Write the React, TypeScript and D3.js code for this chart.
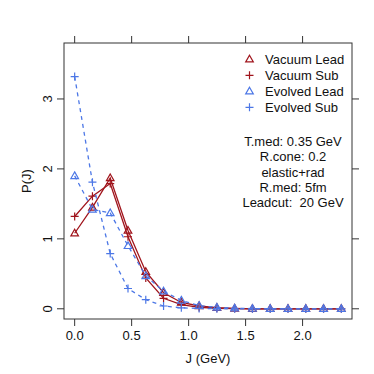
import React from "react";
import * as d3 from "d3";

const jValues = [0, 0.156, 0.312, 0.468, 0.624, 0.78, 0.936, 1.092, 1.248, 1.404, 1.56, 1.716, 1.872, 2.028, 2.184, 2.34];
const vacuumLead = [1.08, 1.45, 1.87, 1.12, 0.53, 0.23, 0.09, 0.04, 0.015, 0.005, 0, 0, 0, 0, 0, 0];
const vacuumSub = [1.32, 1.61, 1.79, 1.03, 0.44, 0.15, 0.06, 0.02, 0.008, 0.003, 0, 0, 0, 0, 0, 0];
const evolvedLead = [1.9, 1.42, 1.37, 0.9, 0.47, 0.25, 0.12, 0.045, 0.02, 0.008, 0.003, 0, 0, 0, 0, 0];
const evolvedSub = [3.32, 1.81, 0.79, 0.29, 0.13, 0.04, 0.014, 0.005, 0.002, 0, 0, 0, 0, 0, 0, 0];

const xTicks = [0, 0.5, 1, 1.5, 2];
const xTickLabels = ["0.0", "0.5", "1.0", "1.5", "2.0"];
const yTicks = [0, 1, 2, 3];
const legendLabels = ["Vacuum Lead", "Vacuum Sub", "Evolved Lead", "Evolved Sub"];
const annotations = ["T.med: 0.35 GeV", "R.cone: 0.2", "elastic+rad", "R.med: 5fm", "Leadcut:  20 GeV"];

const RED = "#A0141C";
const BLUE = "#4C77E6";
const FONT = "'Liberation Sans', Arial, Helvetica, sans-serif";

const L = 64, R = 352, T = 43, B = 319;

const x = d3.scaleLinear().domain([-0.0936, 2.4336]).range([L, R]);
const y = d3.scaleLinear().domain([-0.146, 3.8]).range([B, T]);

type Series = { vals: number[]; color: string; dash: string | undefined; shape: "tri" | "plus" };
const series: Series[] = [
  { vals: vacuumLead, color: RED, dash: undefined, shape: "tri" },
  { vals: vacuumSub, color: RED, dash: undefined, shape: "plus" },
  { vals: evolvedLead, color: BLUE, dash: "4,4", shape: "tri" },
  { vals: evolvedSub, color: BLUE, dash: "4,4", shape: "plus" },
];

function Marker({ cx, cy, shape, color }: { cx: number; cy: number; shape: string; color: string }) {
  if (shape === "tri") {
    const s = 3.8;
    const p = `M${cx},${cy - s * 1.05} L${cx + s},${cy + s * 0.7} L${cx - s},${cy + s * 0.7} Z`;
    return <path d={p} fill="white" fillOpacity={0} stroke={color} strokeWidth={1.2} />;
  }
  const s = 4;
  return (
    <path d={`M${cx - s},${cy} H${cx + s} M${cx},${cy - s} V${cy + s}`} stroke={color} strokeWidth={1.2} fill="none" />
  );
}

export default function App() {
  const line = d3
    .line<number>()
    .x((_, i) => x(jValues[i]))
    .y((d) => y(d));

  return (
    <svg
      width={374}
      height={374}
      style={{ position: "absolute", left: 0, top: 0, display: "block", background: "white" }}
      fontFamily={FONT}
    >
      <rect x={0} y={0} width={374} height={374} fill="white" />
      {series.map((s, si) => (
        <g key={si}>
          <path d={line(s.vals) || ""} fill="none" stroke={s.color} strokeWidth={1.3} strokeDasharray={s.dash} />
          {s.vals.map((v, i) => (
            <Marker key={i} cx={x(jValues[i])} cy={y(v)} shape={s.shape} color={s.color} />
          ))}
        </g>
      ))}
      {/* box */}
      <rect x={L} y={T} width={R - L} height={B - T} fill="none" stroke="#333" strokeWidth={1} />
      {/* x ticks bottom & top */}
      {xTicks.map((t, i) => (
        <g key={"xt" + i}>
          <line x1={x(t)} x2={x(t)} y1={B} y2={B + 7} stroke="#333" />
          <line x1={x(t)} x2={x(t)} y1={T} y2={T - 7} stroke="#333" />
          <text x={x(t)} y={340} fontSize={13} textAnchor="middle" fill="#111">
            {xTickLabels[i]}
          </text>
        </g>
      ))}
      {yTicks.map((t, i) => (
        <g key={"yt" + i}>
          <line x1={L} x2={L - 7} y1={y(t)} y2={y(t)} stroke="#333" />
          <line x1={R} x2={R + 7} y1={y(t)} y2={y(t)} stroke="#333" />
          <text
            transform={`translate(51.5,${y(t)}) rotate(-90)`}
            fontSize={13}
            textAnchor="middle"
            fill="#111"
          >
            {String(t)}
          </text>
        </g>
      ))}
      <text x={208} y={363} fontSize={13} textAnchor="middle" fill="#111">
        J (GeV)
      </text>
      <text transform={`translate(31,${181})) rotate(-90)`.replace("))", ")")} fontSize={13} textAnchor="middle" fill="#111">
        P(J)
      </text>
      {/* legend */}
      {legendLabels.map((lab, i) => {
        const cy = 59.3 + 16 * i;
        const s = series[i];
        return (
          <g key={"lg" + i}>
            <Marker cx={249.5} cy={cy} shape={s.shape} color={s.color} />
            <text x={265} y={cy + 4.6} fontSize={13} fill="#111">
              {lab}
            </text>
          </g>
        );
      })}
      {annotations.map((a, i) => (
        <text
          key={"an" + i}
          x={293}
          y={141.7 + 15.15 * i + 4.6}
          fontSize={13}
          textAnchor="middle"
          fill="#111"
          style={{ whiteSpace: "pre" }}
        >
          {a}
        </text>
      ))}
    </svg>
  );
}
